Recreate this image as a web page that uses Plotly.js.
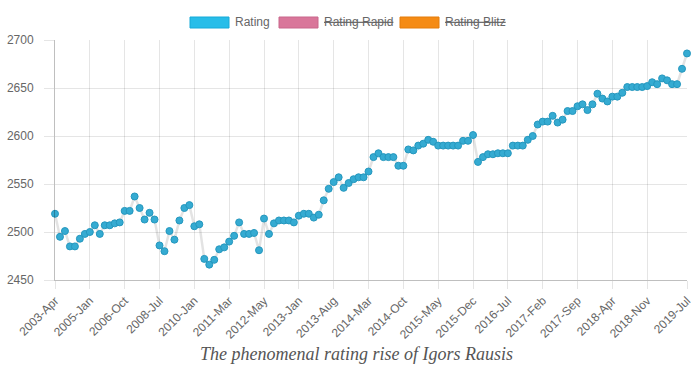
<!DOCTYPE html>
<html>
<head>
<meta charset="utf-8">
<script src="https://cdn.plot.ly/plotly-3.0.1.min.js"></script>
<style>html,body{margin:0;padding:0;background:#fff;}#chart{width:700px;height:373px;}</style>
</head>
<body>
<div id="chart"></div>
<script>
var periods = [
  "2003-Apr","2003-Jul","2003-Oct","2004-Jan","2004-Apr","2004-Jul","2004-Oct","2005-Jan",
  "2005-Apr","2005-Jul","2005-Oct","2006-Jan","2006-Apr","2006-Jul","2006-Oct",
  "2007-Jan","2007-Apr","2007-Jul","2007-Oct","2008-Jan","2008-Apr","2008-Jul",
  "2008-Oct","2009-Jan","2009-Apr","2009-Jul","2009-Sep","2009-Nov","2010-Jan",
  "2010-Mar","2010-May","2010-Jul","2010-Sep","2010-Nov","2011-Jan","2011-Mar",
  "2011-May","2011-Jul","2011-Sep","2011-Nov","2012-Jan","2012-Mar","2012-May",
  "2012-Jul","2012-Aug","2012-Sep","2012-Oct","2012-Nov","2012-Dec","2013-Jan",
  "2013-Feb","2013-Mar","2013-Apr","2013-May","2013-Jun","2013-Jul","2013-Aug",
  "2013-Sep","2013-Oct","2013-Nov","2013-Dec","2014-Jan","2014-Feb","2014-Mar",
  "2014-Apr","2014-May","2014-Jun","2014-Jul","2014-Aug","2014-Sep","2014-Oct",
  "2014-Nov","2014-Dec","2015-Jan","2015-Feb","2015-Mar","2015-Apr","2015-May",
  "2015-Jun","2015-Jul","2015-Aug","2015-Sep","2015-Oct","2015-Nov","2015-Dec",
  "2016-Jan","2016-Feb","2016-Mar","2016-Apr","2016-May","2016-Jun","2016-Jul",
  "2016-Aug","2016-Sep","2016-Oct","2016-Nov","2016-Dec","2017-Jan","2017-Feb",
  "2017-Mar","2017-Apr","2017-May","2017-Jun","2017-Jul","2017-Aug","2017-Sep",
  "2017-Oct","2017-Nov","2017-Dec","2018-Jan","2018-Feb","2018-Mar","2018-Apr",
  "2018-May","2018-Jun","2018-Jul","2018-Aug","2018-Sep","2018-Oct","2018-Nov",
  "2018-Dec","2019-Jan","2019-Feb","2019-Mar","2019-Apr","2019-May","2019-Jun","2019-Jul"
];

var rating = [
  2519,2495,2501,2485,2485,2493,2498,2500,
  2507,2498,2507,2507,2509,2510,2522,
  2522,2537,2525,2513,2520,2513,2486,
  2480,2501,2492,2512,2525,2528,2506,
  2508,2472,2466,2471,2482,2484,2490,
  2496,2510,2498,2498,2499,2481,2514,
  2498,2509,2512,2512,2512,2510,2517,
  2519,2519,2515,2518,2533,2545,2552,
  2557,2546,2551,2555,2557,2557,2563,
  2578,2582,2578,2578,2578,2569,2569,
  2586,2585,2590,2592,2596,2594,2590,
  2590,2590,2590,2590,2595,2595,2601,
  2573,2578,2581,2581,2582,2582,2582,
  2590,2590,2590,2596,2600,2612,2615,
  2615,2621,2614,2617,2626,2626,2631,
  2633,2627,2633,2644,2639,2636,2641,
  2641,2645,2651,2651,2651,2651,2652,
  2656,2654,2660,2658,2654,2654,2670,2686
];

var ratingRapid = [];
var ratingBlitz = [];

var seriesNames = ["Rating", "Rating Rapid", "Rating Blitz"];
var seriesHidden = [false, true, true];
var shownTicks = ["2003-Apr","2005-Jan","2006-Oct","2008-Jul","2010-Jan","2011-Mar","2012-May",
  "2013-Jan","2013-Aug","2014-Mar","2014-Oct","2015-May","2015-Dec","2016-Jul","2017-Feb",
  "2017-Sep","2018-Apr","2018-Nov","2019-Jul"];
var yTicks = [2450, 2500, 2550, 2600, 2650, 2700];
var captionText = "The phenomenal rating rise of Igors Rausis";

// layout geometry (pixels)
var W = 700, H = 373, L = 55, R = 13, T = 40, B = 93;
var PW = W - L - R, PH = H - T - B;
function px(x){ return (x - L) / PW; }
function py(y){ return (H - B - y) / PH; }

var fills = ["#27bde9", "#d9769a", "#f58b14"];
var borders = ["#16aad8", "#c9678b", "#e47d0a"];
var boxX = [190, 279, 400];
var textX = [233, 322, 443];

var shapes = [], annotations = [];
for (var i = 0; i < seriesNames.length; i++) {
  shapes.push({type:"rect", xref:"paper", yref:"paper",
    x0:px(boxX[i]), x1:px(boxX[i]+39), y0:py(28), y1:py(17),
    fillcolor:fills[i], line:{color:borders[i], width:1}});
  annotations.push({xref:"paper", yref:"paper", x:px(textX[i]), y:py(22.5),
    xanchor:"left", yanchor:"middle", showarrow:false,
    text: seriesHidden[i] ? "<s>" + seriesNames[i] + "</s>" : seriesNames[i],
    font:{family:"Liberation Sans, Arial, sans-serif", size:12, color:"#666"}});
}
annotations.push({xref:"paper", yref:"paper", x:px(356), xanchor:"center", y:py(354), yanchor:"middle",
  showarrow:false, text:captionText,
  font:{family:"Liberation Serif, Times New Roman, serif", size:18, color:"#555", style:"italic"}});

var traces = [
  {type:"scatter", mode:"lines+markers", name:seriesNames[0], x:periods, y:rating,
   line:{color:"rgba(0,0,0,0.11)", width:2.5},
   marker:{size:7, color:"#35abd2", line:{color:"#2597be", width:1}},
   cliponaxis:false, showlegend:false, hoverinfo:"x+y"},
  {type:"scatter", mode:"lines+markers", name:seriesNames[1], x:periods.slice(0, ratingRapid.length), y:ratingRapid,
   visible:false, showlegend:false},
  {type:"scatter", mode:"lines+markers", name:seriesNames[2], x:periods.slice(0, ratingBlitz.length), y:ratingBlitz,
   visible:false, showlegend:false}
];

var layout = {
  width:W, height:H,
  margin:{l:L, r:R, t:T, b:B},
  paper_bgcolor:"#fff", plot_bgcolor:"#fff",
  font:{family:"Liberation Sans, Arial, sans-serif", size:12, color:"#666"},
  showlegend:false,
  xaxis:{type:"category", categoryorder:"array", categoryarray:periods,
    range:[0, periods.length - 1], tickmode:"array", tickvals:shownTicks, ticktext:shownTicks,
    tickangle:-45, showgrid:true, gridcolor:"rgba(0,0,0,0.1)", gridwidth:1,
    ticks:"outside", ticklen:8, tickcolor:"rgba(0,0,0,0.1)",
    showline:true, linecolor:"rgba(0,0,0,0.25)", linewidth:1, zeroline:false,
    tickfont:{size:12, color:"#666"}, fixedrange:true},
  yaxis:{range:[2450, 2700], tickmode:"array", tickvals:yTicks, showgrid:true,
    gridcolor:"rgba(0,0,0,0.1)", gridwidth:1, ticks:"outside", ticklen:10,
    tickcolor:"rgba(0,0,0,0.1)", showline:true, linecolor:"rgba(0,0,0,0.25)", linewidth:1,
    ticklabelstandoff:8,
    zeroline:false, tickfont:{size:12, color:"#666"}, fixedrange:true},
  shapes:shapes,
  annotations:annotations
};

Plotly.newPlot("chart", traces, layout, {displayModeBar:false, staticPlot:true});
</script>
</body>
</html>
